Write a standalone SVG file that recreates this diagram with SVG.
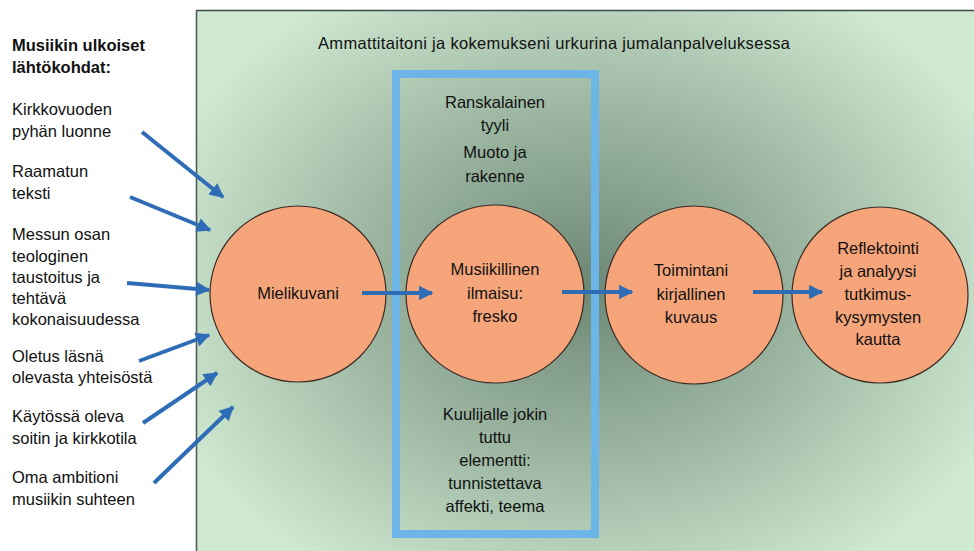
<svg xmlns="http://www.w3.org/2000/svg" width="974" height="551" viewBox="0 0 974 551">
<defs>
<radialGradient id="bg" gradientUnits="userSpaceOnUse" cx="585" cy="285" r="450" gradientTransform="translate(585 285) scale(1 0.78) translate(-585 -285)">
<stop offset="0" stop-color="#6c8875"/>
<stop offset="0.5" stop-color="#9cb6a2"/>
<stop offset="1" stop-color="#d0e9d1"/>
</radialGradient>
<marker id="ah" viewBox="0 0 10 10" refX="9" refY="5" markerWidth="3.8" markerHeight="3.6" orient="auto" markerUnits="strokeWidth">
<path d="M0 0 L10 5 L0 10 Z" fill="#2e6db6"/>
</marker>
<style>
text{font-family:"Liberation Sans",Arial,sans-serif;font-size:16.5px;fill:#111;}
.c{text-anchor:middle;}
.b{font-weight:bold;}
.node circle{fill:#f6a57b;stroke:#3b2a22;stroke-width:1.2;}
.conn line{stroke:#2e6db6;stroke-width:4;marker-end:url(#ah);}
</style>
</defs>
<rect width="974" height="551" fill="#ffffff"/>
<g id="background">
<rect x="196" y="10" width="800" height="560" fill="url(#bg)"/>
<line x1="196" y1="10.5" x2="974" y2="10.5" stroke="#3f4a48" stroke-width="1.6"/>
<line x1="196.5" y1="10" x2="196.5" y2="551" stroke="#4f5e5c" stroke-width="1.6"/>
<text x="318" y="49" textLength="472" lengthAdjust="spacing">Ammattitaitoni ja kokemukseni urkurina jumalanpalveluksessa</text>
</g>
<g id="frame">
<rect x="396" y="74" width="199" height="460" fill="none" stroke="#6db5e6" stroke-width="8"/>
<text class="c" x="495" y="108">Ranskalainen</text>
<text class="c" x="495" y="131">tyyli</text>
<text class="c" x="495" y="158">Muoto ja</text>
<text class="c" x="495" y="182">rakenne</text>
<text class="c" x="495" y="420">Kuulijalle jokin</text>
<text class="c" x="495" y="443">tuttu</text>
<text class="c" x="495" y="466">elementti:</text>
<text class="c" x="495" y="489">tunnistettava</text>
<text class="c" x="495" y="512">affekti, teema</text>
</g>
<g id="inputs">
<text class="b" x="12" y="51">Musiikin ulkoiset</text>
<text class="b" x="12" y="73">lähtökohdat:</text>
<text x="12" y="115">Kirkkovuoden</text>
<text x="12" y="137">pyhän luonne</text>
<text x="12" y="177">Raamatun</text>
<text x="12" y="199">teksti</text>
<text x="12" y="240">Messun osan</text>
<text x="12" y="262">teologinen</text>
<text x="12" y="283">taustoitus ja</text>
<text x="12" y="304">tehtävä</text>
<text x="12" y="325">kokonaisuudessa</text>
<text x="12" y="362">Oletus läsnä</text>
<text x="12" y="383">olevasta yhteisöstä</text>
<text x="12" y="422">Käytössä oleva</text>
<text x="12" y="444">soitin ja kirkkotila</text>
<text x="12" y="483">Oma ambitioni</text>
<text x="12" y="505">musiikin suhteen</text>
</g>
<g id="n1" class="node">
<circle cx="298" cy="294" r="88"/>
<text class="c" x="298" y="299">Mielikuvani</text>
</g>
<g id="n2" class="node">
<circle cx="495" cy="294" r="89"/>
<text class="c" x="495" y="275">Musiikillinen</text>
<text class="c" x="495" y="299">ilmaisu:</text>
<text class="c" x="495" y="322">fresko</text>
</g>
<g id="n3" class="node">
<circle cx="694" cy="295" r="89"/>
<text class="c" x="691" y="276">Toimintani</text>
<text class="c" x="691" y="300">kirjallinen</text>
<text class="c" x="691" y="323">kuvaus</text>
</g>
<g id="n4" class="node">
<circle cx="880" cy="295" r="88"/>
<text class="c" x="878" y="254">Reflektointi</text>
<text class="c" x="878" y="277">ja analyysi</text>
<text class="c" x="878" y="300">tutkimus-</text>
<text class="c" x="878" y="323">kysymysten</text>
<text class="c" x="878" y="345">kautta</text>
</g>
<g id="connectors" class="conn">
<line x1="142" y1="132" x2="223" y2="197"/>
<line x1="130" y1="197" x2="210" y2="230"/>
<line x1="127" y1="283" x2="209" y2="290"/>
<line x1="139" y1="361" x2="209" y2="335"/>
<line x1="143" y1="423" x2="217" y2="373"/>
<line x1="154" y1="483" x2="233" y2="407"/>
<line x1="362" y1="293" x2="432" y2="293"/>
<line x1="562" y1="292" x2="632" y2="292"/>
<line x1="753" y1="292" x2="822" y2="292"/>
</g>
</svg>
